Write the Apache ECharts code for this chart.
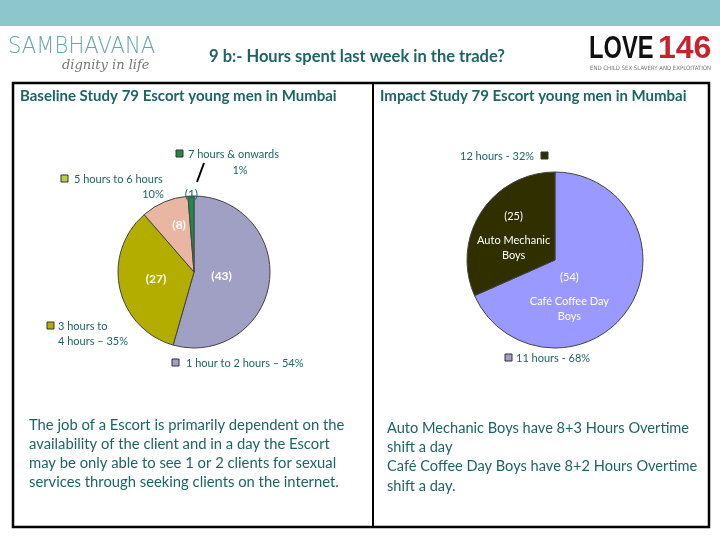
<!DOCTYPE html>
<html><head><meta charset="utf-8">
<script src="https://cdn.jsdelivr.net/npm/echarts@6/dist/echarts.min.js"></script>
<style>html,body{margin:0;padding:0;background:#fff}#c{width:720px;height:540px}</style>
</head><body><div id="c"></div>
<script>
// ---- data ----
const baselineNames = ['1 hour to 2 hours', '3 hours to 4 hours', '5 hours to 6 hours', '7 hours & onwards'];
const baselineValues = [43, 27, 8, 1];
const baselinePct = ['54%', '35%', '10%', '1%'];
const impactNames = ['Café Coffee Day Boys', 'Auto Mechanic Boys'];
const impactValues = [54, 25];
const impactHours = ['11 hours - 68%', '12 hours - 32%'];
const titleText = '9 b:- Hours spent last week in the trade?';
const leftHeader = 'Baseline Study 79 Escort young men in Mumbai';
const rightHeader = 'Impact Study 79 Escort young men in Mumbai';
const leftNotes = ['The job of a Escort is primarily dependent on the', 'availability of the client and in a day the Escort', 'may be only able to see 1 or 2 clients for sexual', 'services through seeking clients on the internet.'];
const rightNotes = ['Auto Mechanic Boys have 8+3 Hours Overtime', 'shift a day', 'Café Coffee Day Boys have 8+2 Hours Overtime', 'shift a day.'];

const FONT = 'Lato, "Open Sans", sans-serif';
const TEAL = '#1f6464';
const chart = echarts.init(document.getElementById('c'), null, {renderer: 'canvas'});

function txt(x, y, s, opt) {
  opt = opt || {};
  const el = {type: 'text', x: x, y: y, style: Object.assign({text: s, font: (opt.weight || 'normal') + ' ' + (opt.size || 11) + 'px ' + FONT, fill: opt.fill || TEAL, textAlign: opt.align || 'left', textVerticalAlign: 'middle'}, opt.extra || {}), z: 10};
  if (opt.scaleX) el.scaleX = opt.scaleX;
  return el;
}
function marker(x, y, color) {
  return {type: 'rect', shape: {x: x, y: y - 4, width: 7, height: 7}, style: {fill: color, stroke: '#333', lineWidth: 1}, z: 10};
}

const leftColors = ['#a09fc4', '#b3ad00', '#e8b6a2', '#1e8a4a'];
const rightColors = ['#9999ff', '#2f2f00'];

const graphics = [
  {type: 'rect', shape: {x: 0, y: 0, width: 720, height: 26}, style: {fill: '#8ec6ce'}},
  // Sambhavana logo
  txt(8, 47, 'SAMBHAVANA', {fill: '#6aa5ab', scaleX: 0.92, extra: {font: '200 23px "DejaVu Sans", sans-serif'}}),
  txt(62, 66, 'dignity in life', {fill: '#777', extra: {font: 'italic 13px "DejaVu Serif", serif'}}),
  // title
  txt(357, 57, titleText, {fill: TEAL, align: 'center', extra: {font: 'bold 16.5px ' + FONT}}),
  // LOVE146 logo
  txt(589, 49, 'LOVE', {fill: '#111', scaleX: 0.74, extra: {font: 'bold 32px "Liberation Sans", sans-serif'}}),
  txt(658, 49, '146', {fill: '#c8232c', scaleX: 1.0, extra: {font: 'bold 32px "Liberation Sans", sans-serif'}}),
  txt(590, 68, 'END CHILD SEX SLAVERY AND EXPLOITATION', {fill: '#777', extra: {font: '6px "DejaVu Sans Condensed", sans-serif'}}),
  // table frame
  {type: 'rect', shape: {x: 13, y: 83, width: 696, height: 444}, style: {fill: 'none', stroke: '#000', lineWidth: 2.5}},
  {type: 'line', shape: {x1: 373, y1: 83, x2: 373, y2: 527}, style: {stroke: '#000', lineWidth: 2}},
  txt(20, 96, leftHeader, {size: 15, weight: 'bold'}),
  txt(380, 96, rightHeader, {size: 15, weight: 'bold'}),
  // left pie outside labels
  marker(176, 154, leftColors[3]),
  txt(188, 154, baselineNames[3], {size: 11}),
  txt(240, 170, baselinePct[3], {size: 11, align: 'center'}),
  {type: 'line', shape: {x1: 204, y1: 163, x2: 197, y2: 182}, style: {stroke: '#000', lineWidth: 2}, z: 10},
  marker(61, 179, '#b9d13a'),
  txt(74, 179, baselineNames[2], {size: 11}),
  txt(153, 194, baselinePct[2], {size: 11, align: 'center'}),
  marker(47, 326, leftColors[1]),
  txt(58, 326, '3 hours to', {size: 11}),
  txt(58, 341, '4 hours \u2013 ' + baselinePct[1], {size: 11}),
  marker(172, 363, leftColors[0]),
  txt(186, 363, baselineNames[0] + ' \u2013 ' + baselinePct[0], {size: 11}),
  // right pie outside labels
  txt(460, 156, impactHours[1], {size: 11}),
  marker(541, 156, rightColors[1]),
  marker(505, 358, leftColors[0]),
  txt(516, 358, impactHours[0], {size: 11}),
];
leftNotes.forEach((s, i) => graphics.push(txt(29, 425 + i * 19.2, s, {size: 14.8})));
rightNotes.forEach((s, i) => graphics.push(txt(387, 428 + i * 19.3, s, {size: 14.6})));

const leftOffsets = [[-13, -2], [2, -2], [1, -9], [-1, -37]];
const rightOffsets = [[-25, 7], [-2, -3]];

chart.setOption({
  backgroundColor: '#fff',
  animation: false,
  graphic: graphics,
  series: [
    {
      type: 'pie', center: [194, 272], radius: 76, startAngle: 90, clockwise: true,
      data: baselineNames.map((n, i) => ({name: n, value: baselineValues[i], itemStyle: {color: leftColors[i]},
        label: i === 3 ? {color: TEAL, fontWeight: 'normal'} : (i === 1 ? {color: '#ffffe8'} : {})})),
      itemStyle: {borderColor: '#444', borderWidth: 1},
      label: {show: true, position: 'inside', formatter: '({c})', color: '#fff', fontFamily: FONT, fontSize: 12, fontWeight: 'bold'},
      labelLayout: p => ({dx: leftOffsets[p.dataIndex][0], dy: leftOffsets[p.dataIndex][1]}),
      emphasis: {disabled: true}, silent: true
    },
    {
      type: 'pie', center: [555, 260], radius: 88, startAngle: 90, clockwise: true,
      data: impactNames.map((n, i) => ({name: n, value: impactValues[i], itemStyle: {color: rightColors[i]}})),
      itemStyle: {borderColor: '#444', borderWidth: 1},
      label: {show: true, position: 'inside', color: '#fff', fontFamily: FONT, fontSize: 11,
        rich: {a: {lineHeight: 33, color: '#fff', fontFamily: FONT, fontSize: 11}, b: {lineHeight: 15, color: '#fff', fontFamily: FONT, fontSize: 11}},
        formatter: p => {
          const w = p.name.replace(' Boys', '');
          return '{a|(' + p.value + ')}\n{b|' + w + '}\n{b|Boys}';
        }},
      labelLayout: p => ({dx: rightOffsets[p.dataIndex][0], dy: rightOffsets[p.dataIndex][1]}),
      emphasis: {disabled: true}, silent: true
    }
  ]
});
</script></body></html>
